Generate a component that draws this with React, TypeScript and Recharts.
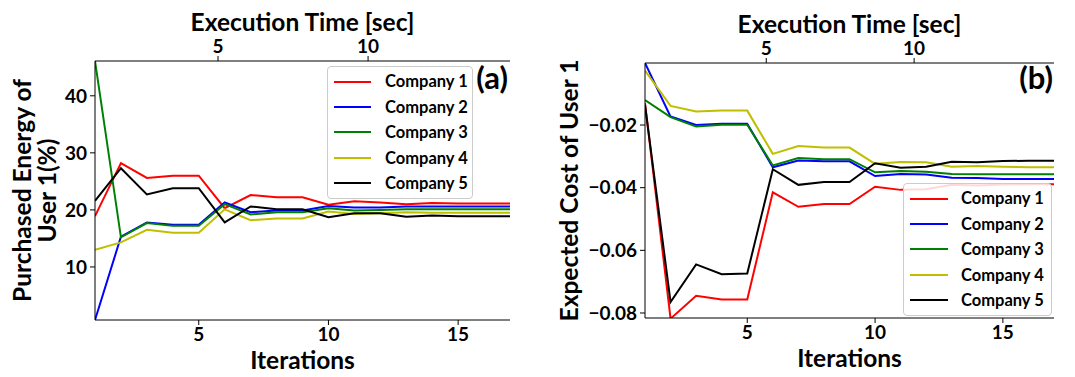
import { LineChart, Line, XAxis, YAxis, Legend, Label } from 'recharts'

const iterations = [1, 2, 3, 4, 5, 6, 7, 8, 9, 10, 11, 12, 13, 14, 15, 16, 17]

// (a) purchased energy of user 1 (%)
const energyCompany1 = [18.9, 28.2, 25.6, 26.0, 26.0, 20.3, 22.6, 22.2, 22.2, 20.9, 21.5, 21.3, 21.0, 21.2, 21.1, 21.1, 21.1]
const energyCompany2 = [0.7, 15.3, 17.8, 17.4, 17.4, 21.3, 19.6, 19.9, 19.9, 20.7, 20.4, 20.4, 20.6, 20.6, 20.6, 20.6, 20.6]
const energyCompany3 = [46.1, 15.2, 17.7, 17.2, 17.2, 21.0, 19.2, 19.6, 19.6, 20.3, 19.9, 20.0, 20.1, 20.1, 20.1, 20.1, 20.1]
const energyCompany4 = [13.0, 14.3, 16.5, 16.0, 16.0, 20.1, 18.2, 18.5, 18.5, 19.7, 19.3, 19.4, 19.6, 19.5, 19.5, 19.5, 19.5]
const energyCompany5 = [21.6, 27.3, 22.7, 23.8, 23.8, 17.8, 20.6, 20.1, 20.1, 18.7, 19.4, 19.4, 18.8, 19.0, 18.9, 18.9, 18.9]

// (b) expected cost of user 1
const costCompany1 = [-0.013, -0.0818, -0.0745, -0.0757, -0.0757, -0.0415, -0.0461, -0.0452, -0.0452, -0.0397, -0.0407, -0.0405, -0.0391, -0.0393, -0.039, -0.0389, -0.0389]
const costCompany2 = [-0.0002, -0.0173, -0.02, -0.0196, -0.0196, -0.0335, -0.0313, -0.0316, -0.0316, -0.0363, -0.0356, -0.0358, -0.0368, -0.0369, -0.0372, -0.0372, -0.0372]
const costCompany3 = [-0.012, -0.0175, -0.0205, -0.0199, -0.0199, -0.0329, -0.0305, -0.0309, -0.0309, -0.0351, -0.0347, -0.0349, -0.0356, -0.0357, -0.0357, -0.0357, -0.0357]
const costCompany4 = [-0.0026, -0.0139, -0.0157, -0.0154, -0.0154, -0.0292, -0.0267, -0.0272, -0.0272, -0.0324, -0.0318, -0.0319, -0.0333, -0.0331, -0.0333, -0.0335, -0.0335]
const costCompany5 = [-0.0136, -0.0765, -0.0645, -0.0676, -0.0674, -0.0341, -0.0391, -0.0382, -0.0382, -0.0322, -0.0336, -0.0333, -0.0317, -0.0319, -0.0315, -0.0314, -0.0314]

const companyNames = ['Company 1', 'Company 2', 'Company 3', 'Company 4', 'Company 5']
const companyColors = ['#ff0000', '#0000ff', '#008000', '#bfbf00', '#000000']

const iterationTicks = [5, 10, 15]
const timeTicks = [5, 10]
const timeDomain = [0.9, 14.73]
const energyTicks = [10, 20, 30, 40]
const costTicks = [-0.08, -0.06, -0.04, -0.02]

const FONT = 'Lato, Carlito, sans-serif'

const energySeries = [energyCompany1, energyCompany2, energyCompany3, energyCompany4, energyCompany5]
const costSeries = [costCompany1, costCompany2, costCompany3, costCompany4, costCompany5]

const energyData = iterations.map((it, i) => {
  const row: Record<string, number> = { iter: it }
  energySeries.forEach((s, k) => (row['c' + (k + 1)] = s[i]))
  return row
})

const costData = iterations.map((it, i) => {
  const row: Record<string, number> = { iter: it }
  costSeries.forEach((s, k) => (row['c' + (k + 1)] = s[i]))
  return row
})

const tickStyle = { fontSize: 19, fontWeight: 700, fill: '#000', fontFamily: FONT }
const titleStyle = { fontSize: 24.5, fontWeight: 700, fill: '#000', fontFamily: FONT }

const fmtCost = (v: number) => v.toFixed(2).replace('-', '\u2212')

function LegendBox({ width, lineW, gap, padTop }: { width: number; lineW: number; gap: number; padTop: number }) {
  return (
    <div
      style={{
        width,
        boxSizing: 'border-box',
        border: '1px solid #cccccc',
        borderRadius: 4,
        background: 'rgba(255,255,255,0.85)',
        padding: `${padTop}px 4px ${padTop}px 6px`,
      }}
    >
      {companyNames.map((name, i) => (
        <div key={name} style={{ display: 'flex', alignItems: 'center', height: 25.4, whiteSpace: 'nowrap' }}>
          <svg width={lineW} height={4} style={{ flexShrink: 0 }}>
            <line x1={0} y1={2} x2={lineW} y2={2} stroke={companyColors[i]} strokeWidth={2} />
          </svg>
          <span
            style={{
              marginLeft: gap,
              fontFamily: FONT,
              fontWeight: 700,
              fontSize: 16.5,
              color: '#000',
              lineHeight: 1,
              whiteSpace: 'nowrap',
            }}
          >
            {name}
          </span>
        </div>
      ))}
    </div>
  )
}

export default function App() {
  return (
    <div style={{ position: 'absolute', left: 0, top: 0, width: 1075, height: 377, background: '#fff' }}>
      {/* panel (a) */}
      <div style={{ position: 'absolute', left: 0, top: 0, width: 540, height: 377 }}>
        <LineChart width={540} height={377} data={energyData} margin={{ top: 0, right: 30, bottom: 0, left: 0 }}>
          <XAxis
            dataKey="iter"
            type="number"
            domain={[1, 17]}
            ticks={iterationTicks}
            allowDataOverflow
            height={57}
            tickSize={5}
            tickMargin={3}
            tick={tickStyle}
            stroke="#000"
          >
            <Label
              content={({ viewBox }: any) => (
                <text x={viewBox.x + viewBox.width / 2} y={369} textAnchor="middle" style={titleStyle}>
                  Iterations
                </text>
              )}
            />
          </XAxis>
          <XAxis
            xAxisId="top"
            dataKey="iter"
            orientation="top"
            type="number"
            domain={timeDomain}
            ticks={timeTicks}
            allowDataOverflow
            height={61}
            tickSize={5}
            tickMargin={3}
            tick={tickStyle}
            stroke="#000"
          >
            <Label
              content={({ viewBox }: any) => (
                <text x={viewBox.x + viewBox.width / 2} y={31} textAnchor="middle" style={titleStyle}>
                  Execution Time [sec]
                </text>
              )}
            />
          </XAxis>
          <YAxis
            type="number"
            domain={[0.7, 46.1]}
            ticks={energyTicks}
            allowDataOverflow
            width={95}
            tickSize={5}
            tickMargin={3}
            tick={tickStyle}
            stroke="#000"
          >
            <Label
              content={({ viewBox }: any) => {
                const cy = viewBox.y + viewBox.height / 2
                return (
                  <g>
                    <text transform={`translate(31,${cy}) rotate(-90)`} textAnchor="middle" style={titleStyle}>
                      Purchased Energy of
                    </text>
                    <text transform={`translate(56,${cy}) rotate(-90)`} textAnchor="middle" style={titleStyle}>
                      User 1(%)
                    </text>
                  </g>
                )
              }}
            />
          </YAxis>
          <YAxis yAxisId="frame" orientation="right" width={0} tick={false} tickLine={false} stroke="#000" />
          {companyNames.map((name, i) => (
            <Line
              key={name}
              dataKey={'c' + (i + 1)}
              name={name}
              stroke={companyColors[i]}
              strokeWidth={2}
              dot={false}
              isAnimationActive={false}
            />
          ))}
          <Legend
            layout="vertical"
            align="center"
            verticalAlign="middle"
            wrapperStyle={{ left: 327, top: 66, width: 146, right: 'auto', bottom: 'auto' }}
            content={() => <LegendBox width={146} lineW={37} gap={14} padTop={2} />}
          />
        </LineChart>
        <div
          style={{ position: 'absolute', right: 32, top: 62, fontFamily: FONT, fontWeight: 700, fontSize: 31, lineHeight: 1, color: '#000' }}
        >
          (a)
        </div>
      </div>

      {/* panel (b) */}
      <div style={{ position: 'absolute', left: 540, top: 0, width: 535, height: 377 }}>
        <LineChart width={535} height={377} data={costData} margin={{ top: 0, right: 21, bottom: 0, left: 0 }}>
          <XAxis
            dataKey="iter"
            type="number"
            domain={[1, 17]}
            ticks={iterationTicks}
            allowDataOverflow
            height={59}
            tickSize={5}
            tickMargin={3}
            tick={tickStyle}
            stroke="#000"
          >
            <Label
              content={({ viewBox }: any) => (
                <text x={viewBox.x + viewBox.width / 2} y={367} textAnchor="middle" style={titleStyle}>
                  Iterations
                </text>
              )}
            />
          </XAxis>
          <XAxis
            xAxisId="top"
            dataKey="iter"
            orientation="top"
            type="number"
            domain={timeDomain}
            ticks={timeTicks}
            allowDataOverflow
            height={63}
            tickSize={5}
            tickMargin={3}
            tick={tickStyle}
            stroke="#000"
          >
            <Label
              content={({ viewBox }: any) => (
                <text x={viewBox.x + viewBox.width / 2} y={33} textAnchor="middle" style={titleStyle}>
                  Execution Time [sec]
                </text>
              )}
            />
          </XAxis>
          <YAxis
            type="number"
            domain={[-0.0816, -0.0002]}
            ticks={costTicks}
            allowDataOverflow
            width={105}
            tickSize={5}
            tickMargin={3}
            tick={tickStyle}
            tickFormatter={fmtCost}
            stroke="#000"
          >
            <Label
              content={({ viewBox }: any) => {
                const cy = viewBox.y + viewBox.height / 2
                return (
                  <text transform={`translate(38,${cy}) rotate(-90)`} textAnchor="middle" style={titleStyle}>
                    Expected Cost of User 1
                  </text>
                )
              }}
            />
          </YAxis>
          <YAxis yAxisId="frame" orientation="right" width={0} tick={false} tickLine={false} stroke="#000" />
          {companyNames.map((name, i) => (
            <Line
              key={name}
              dataKey={'c' + (i + 1)}
              name={name}
              stroke={companyColors[i]}
              strokeWidth={2}
              dot={false}
              isAnimationActive={false}
            />
          ))}
          <Legend
            layout="vertical"
            align="center"
            verticalAlign="middle"
            wrapperStyle={{ left: 363, top: 183, width: 149, right: 'auto', bottom: 'auto' }}
            content={() => <LegendBox width={149} lineW={38} gap={13} padTop={2} />}
          />
        </LineChart>
        <div
          style={{ position: 'absolute', right: 22, top: 62, fontFamily: FONT, fontWeight: 700, fontSize: 31, lineHeight: 1, color: '#000' }}
        >
          (b)
        </div>
      </div>
    </div>
  )
}
